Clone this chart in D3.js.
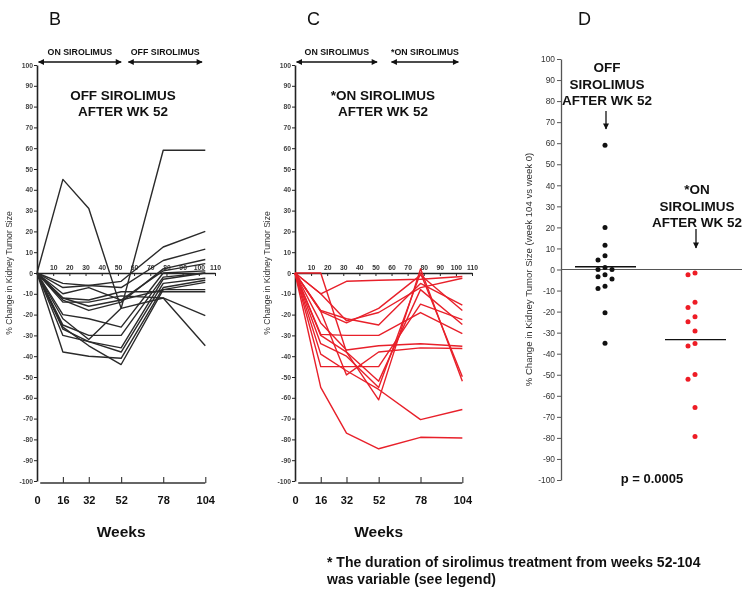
<!DOCTYPE html>
<html><head><meta charset="utf-8">
<script src="https://cdn.jsdelivr.net/npm/d3@7"></script>
<style>
html,body{margin:0;padding:0;background:#fff;}
svg{display:block;will-change:transform;transform:translateZ(0);}
text{font-family:"Liberation Sans",Arial,sans-serif;}
</style></head>
<body><svg id="chart" width="742" height="597"></svg>
<script>
// ---------------- DATA ----------------
const weeks = [0, 16, 32, 52, 78, 104];
const innerTicks = [10, 20, 30, 40, 50, 60, 70, 80, 90, 100, 110];
const bottomTicks = [0, 16, 32, 52, 78, 104];
const yTicks = d3.range(-100, 101, 10);

// Panel B: off sirolimus after wk 52 (values at weeks 16,32,52,78,104)
const offSeries = [
  [45, 31, -17, 59, 59],
  [-5, -6, -4, 12.5, 20],
  [-7, -6, -7, 6, 11.5],
  [-13, -18, -14, 2, 6.5],
  [-12, -16, -13, 1, 4.5],
  [-20, -22, -26, 0, 1],
  [-25, -30, -30, -2, 0],
  [-27, -33, -36, -3, 0],
  [-30, -33, -38, -5, -2.5],
  [-38, -40, -41, -7, -3.5],
  [-26, -35, -44, -8, -4.5],
  [-12, -13, -9, -9, -9],
  [-10, -7, -13, -8, -8],
  [-14, -14, -11, -12, -20.5],
  [-22, -32, -17, -12, -35]
];
// Panel C: *on sirolimus after wk 52
const onSeries = [
  [-10, -4, -3.5, -3, -1.7],
  [0, -38, -61, 2, -52.1],
  [-18, -22, -25, -5, -15.5],
  [-18.5, -24, -17, -1, -18],
  [-10, -23, -19, -7, -2.5],
  [-29.5, -30, -30, -19, -29.2],
  [-24, -37, -35, -34, -35.2],
  [-18.5, -49, -38, -36, -36.3],
  [-45, -45, -45, -15, -22.4],
  [-30, -38, -52, -8, -24.8],
  [-34, -40, -55, 0, -49.9],
  [-39, -47, -56, -70.5, -65.6],
  [-55, -77, -84.5, -79, -79.3]
];
// Panel D values = week-104 change (last point of each series)
const offWeek104 = offSeries.map(s => s[s.length - 1]);
const onWeek104 = onSeries.map(s => s[s.length - 1]);
const pValue = "p = 0.0005";

// ---------------- DRAW ----------------
const svg = d3.select("#chart");
svg.append("rect").attr("width", 742).attr("height", 597).attr("fill", "#fff");
const FONT = '"Liberation Sans",Arial,sans-serif';
const fmt = d => String(d);

const defs = svg.append("defs");
defs.append("marker").attr("id", "ah").attr("viewBox", "0 0 10 10")
  .attr("refX", 9).attr("refY", 5).attr("markerWidth", 7).attr("markerHeight", 6)
  .attr("markerUnits", "userSpaceOnUse").attr("orient", "auto-start-reverse")
  .append("path").attr("d", "M0,0 L10,5 L0,10 Z").attr("fill", "#111");

const yLine = d3.scaleLinear().domain([-100, 100]).range([481, 65]);

const panels = [
  { letter: "B", x0: 37, x1: 215, series: offSeries, color: "#2a2a2a",
    head: ["ON SIROLIMUS", "OFF SIROLIMUS"], arrows: [[1, 52], [56.5, 102]],
    title: ["OFF SIROLIMUS", "AFTER WK 52"], titleX: 123 },
  { letter: "C", x0: 295, x1: 472, series: onSeries, color: "#e8202a",
    head: ["ON SIROLIMUS", "*ON SIROLIMUS"], arrows: [[1, 51], [60, 101.5]],
    title: ["*ON SIROLIMUS", "AFTER WK 52"], titleX: 383 }
];

panels.forEach(p => {
  const x = d3.scaleLinear().domain([0, 110]).range([p.x0, p.x1]);
  const g = svg.append("g");

  g.append("text").attr("x", x(0) + 12).attr("y", 25).attr("font-size", 18)
    .attr("fill", "#111").text(p.letter);

  p.arrows.forEach((a, i) => {
    g.append("line").attr("x1", x(a[0])).attr("x2", x(a[1]))
      .attr("y1", 62).attr("y2", 62).attr("stroke", "#111").attr("stroke-width", 1.3)
      .attr("marker-start", "url(#ah)").attr("marker-end", "url(#ah)");
    g.append("text").attr("x", (x(a[0]) + x(a[1])) / 2).attr("y", 55)
      .attr("text-anchor", "middle").attr("font-size", 8.8).attr("font-weight", "bold")
      .attr("fill", "#111").text(p.head[i]);
  });

  p.title.forEach((t, i) => {
    g.append("text").attr("x", p.titleX).attr("y", 100 + i * 16)
      .attr("text-anchor", "middle").attr("font-size", 13.5).attr("font-weight", "bold")
      .attr("fill", "#111").text(t);
  });

  const ya = g.append("g").attr("transform", `translate(${x(0)},0)`)
    .call(d3.axisLeft(yLine).tickValues(yTicks).tickFormat(fmt).tickSize(3).tickSizeOuter(0).tickPadding(1));
  ya.select(".domain").attr("stroke", "#222").attr("stroke-width", 1.6);
  ya.selectAll(".tick line").attr("stroke", "#222");
  ya.selectAll("text").attr("font-size", 6.8).attr("font-weight", "bold")
    .attr("font-family", FONT).attr("fill", "#444");

  g.append("text").attr("transform", `translate(${x(0) - 25},${yLine(0)}) rotate(-90)`)
    .attr("text-anchor", "middle").attr("font-size", 8.6).attr("fill", "#333")
    .text("% Change in Kidney Tumor Size");

  const xa = g.append("g").attr("transform", `translate(0,${yLine(0)})`)
    .call(d3.axisBottom(x).tickValues(innerTicks).tickFormat(fmt).tickSize(3).tickSizeOuter(0));
  xa.select(".domain").attr("stroke", "#222").attr("stroke-width", 1.4);
  xa.selectAll(".tick line").attr("stroke", "#222");
  xa.selectAll("text").attr("y", -3).attr("dy", 0).attr("font-size", 6.8)
    .attr("font-weight", "bold").attr("font-family", FONT).attr("fill", "#333");

  const ba = g.append("g").attr("transform", "translate(0,483)")
    .call(d3.axisTop(x).tickValues(bottomTicks).tickFormat(fmt).tickSize(6).tickSizeOuter(0));
  ba.select(".domain").remove();
  ba.selectAll(".tick line").attr("stroke", "#333").attr("stroke-width", 1.1)
    .filter(d => d === 0).remove();
  ba.selectAll("text").attr("y", 21).attr("dy", 0).attr("font-size", 11)
    .attr("font-weight", "bold").attr("font-family", FONT).attr("fill", "#111");
  g.append("line").attr("x1", x(2)).attr("x2", x(104)).attr("y1", 483).attr("y2", 483)
    .attr("stroke", "#333").attr("stroke-width", 1.3);

  g.append("text").attr("x", (x(0) + x(104)) / 2).attr("y", 537).attr("text-anchor", "middle")
    .attr("font-size", 15.5).attr("font-weight", "bold").attr("fill", "#111").text("Weeks");

  const line = d3.line().x((d, i) => x(weeks[i])).y(d => yLine(d));
  g.selectAll("path.series").data(p.series).enter().append("path")
    .attr("class", "series").attr("d", s => line([0].concat(s)))
    .attr("fill", "none").attr("stroke", p.color).attr("stroke-width", 1.4)
    .attr("stroke-linejoin", "round");
});

// ---------------- PANEL D ----------------
const yD = d3.scaleLinear().domain([-100, 100]).range([480, 59]);
const groups = ["off", "on"];
const xD = d3.scalePoint().domain(groups).range([605, 695]);
const gD = svg.append("g");
gD.append("text").attr("x", 578).attr("y", 25).attr("font-size", 18).attr("fill", "#111").text("D");

const yaD = gD.append("g").attr("transform", "translate(561,0)")
  .call(d3.axisLeft(yD).tickValues(yTicks).tickFormat(fmt).tickSize(4).tickSizeOuter(0).tickPadding(2));
yaD.select(".domain").attr("stroke", "#555").attr("stroke-width", 1.3);
yaD.selectAll(".tick line").attr("stroke", "#555");
yaD.selectAll("text").attr("font-size", 8.4).attr("font-family", FONT).attr("fill", "#333");

gD.append("line").attr("x1", 561).attr("x2", 742).attr("y1", yD(0)).attr("y2", yD(0))
  .attr("stroke", "#555").attr("stroke-width", 1.1);

gD.append("text").attr("transform", `translate(532,${yD(0)}) rotate(-90)`)
  .attr("text-anchor", "middle").attr("font-size", 9.6).attr("fill", "#333")
  .text("% Change in Kidney Tumor Size (week 104 vs week 0)");

function swarm(vals) {
  const sorted = vals.map((v, i) => ({ v, i })).sort((a, b) => b.v - a.v);
  const placed = [];
  const cols = [0, -1, 1];
  sorted.forEach(d => {
    for (const c of cols) {
      const clash = placed.some(q => q.c === c && Math.abs(yD(q.v) - yD(d.v)) < 6);
      if (!clash) { d.c = c; break; }
    }
    if (d.c === undefined) d.c = 0;
    placed.push(d);
  });
  return placed;
}
const dotSets = [
  { key: "off", vals: offWeek104, color: "#111", label: ["OFF", "SIROLIMUS", "AFTER WK 52"], ly: 72, a: [111, 129] },
  { key: "on", vals: onWeek104, color: "#ee1c25", label: ["*ON", "SIROLIMUS", "AFTER WK 52"], ly: 194, a: [229, 248] }
];
dotSets.forEach(s => {
  const cx = xD(s.key);
  gD.selectAll(null).data(swarm(s.vals)).enter().append("circle")
    .attr("cx", d => cx + d.c * 7).attr("cy", d => yD(d.v)).attr("r", 2.5)
    .attr("fill", s.color);
  const m = d3.mean(s.vals);
  gD.append("line").attr("x1", cx - 30).attr("x2", cx + 31).attr("y1", yD(m)).attr("y2", yD(m))
    .attr("stroke", "#111").attr("stroke-width", 1.3);
  s.label.forEach((t, i) => {
    gD.append("text").attr("x", cx + 2).attr("y", s.ly + i * 16.5).attr("text-anchor", "middle")
      .attr("font-size", 13.5).attr("font-weight", "bold").attr("fill", "#111").text(t);
  });
  gD.append("line").attr("x1", cx + 1).attr("x2", cx + 1).attr("y1", s.a[0]).attr("y2", s.a[1])
    .attr("stroke", "#111").attr("stroke-width", 1.3).attr("marker-end", "url(#ah)");
});

gD.append("text").attr("x", 652).attr("y", 483).attr("text-anchor", "middle")
  .attr("font-size", 13).attr("font-weight", "bold").attr("fill", "#111").text(pValue);

svg.append("text").attr("x", 327).attr("y", 567).attr("font-size", 14).attr("font-weight", "bold")
  .attr("fill", "#111").text("* The duration of sirolimus treatment from weeks 52-104");
svg.append("text").attr("x", 327).attr("y", 584).attr("font-size", 14).attr("font-weight", "bold")
  .attr("fill", "#111").text("was variable (see legend)");
</script></body></html>
